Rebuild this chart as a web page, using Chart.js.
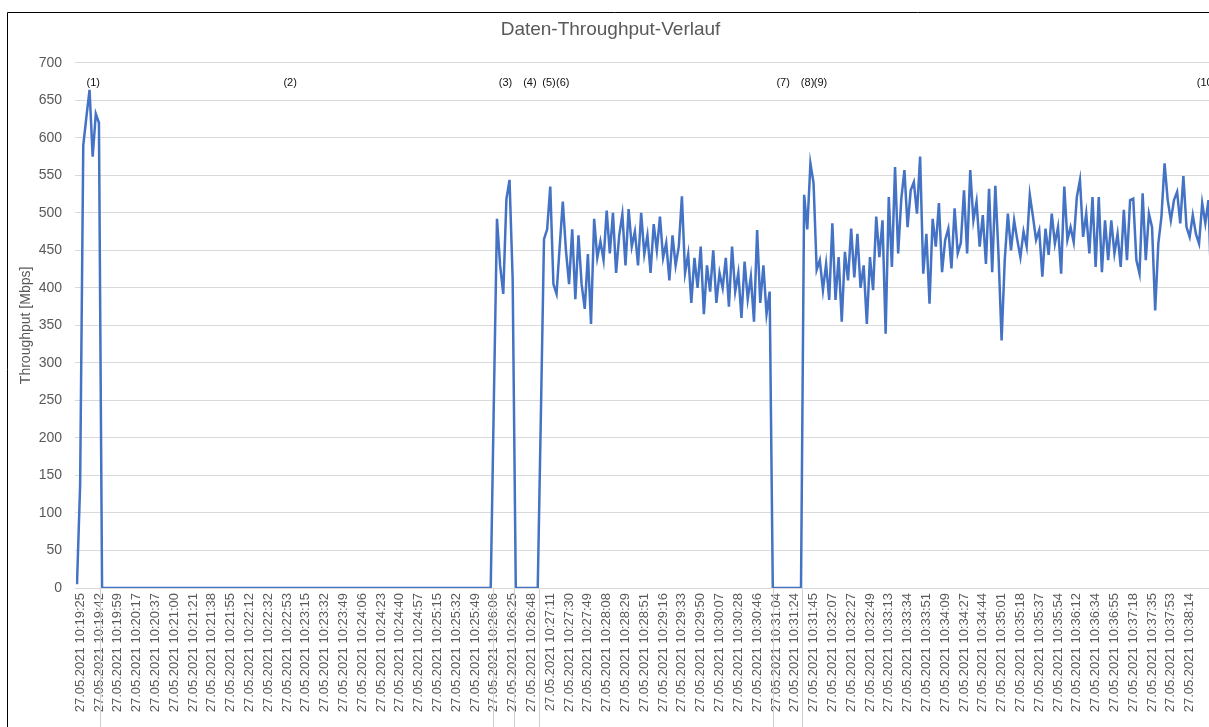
<!DOCTYPE html>
<html><head><meta charset="utf-8">
<script src="https://cdn.jsdelivr.net/npm/chart.js@4"></script>
<style>
html,body{margin:0;padding:0;overflow:hidden;background:#fff;width:1209px;height:727px}
#c{position:absolute;left:0;top:0}
</style></head><body>
<canvas id="c" width="1221" height="727"></canvas>
<script>
// ---- tick labels (one every 6 samples, starting at sample 1) ----
const tickLabels = [
 "27.05.2021 10:19:25","27.05.2021 10:19:42","27.05.2021 10:19:59","27.05.2021 10:20:17","27.05.2021 10:20:37",
 "27.05.2021 10:21:00","27.05.2021 10:21:21","27.05.2021 10:21:38","27.05.2021 10:21:55","27.05.2021 10:22:12",
 "27.05.2021 10:22:32","27.05.2021 10:22:53","27.05.2021 10:23:15","27.05.2021 10:23:32","27.05.2021 10:23:49",
 "27.05.2021 10:24:06","27.05.2021 10:24:23","27.05.2021 10:24:40","27.05.2021 10:24:57","27.05.2021 10:25:15",
 "27.05.2021 10:25:32","27.05.2021 10:25:49","27.05.2021 10:26:06","27.05.2021 10:26:25","27.05.2021 10:26:48",
 "27.05.2021 10:27:11","27.05.2021 10:27:30","27.05.2021 10:27:49","27.05.2021 10:28:08","27.05.2021 10:28:29",
 "27.05.2021 10:28:51","27.05.2021 10:29:16","27.05.2021 10:29:33","27.05.2021 10:29:50","27.05.2021 10:30:07",
 "27.05.2021 10:30:28","27.05.2021 10:30:46","27.05.2021 10:31:04","27.05.2021 10:31:24","27.05.2021 10:31:45",
 "27.05.2021 10:32:07","27.05.2021 10:32:27","27.05.2021 10:32:49","27.05.2021 10:33:13","27.05.2021 10:33:34",
 "27.05.2021 10:33:51","27.05.2021 10:34:09","27.05.2021 10:34:27","27.05.2021 10:34:44","27.05.2021 10:35:01",
 "27.05.2021 10:35:18","27.05.2021 10:35:37","27.05.2021 10:35:54","27.05.2021 10:36:12","27.05.2021 10:36:34",
 "27.05.2021 10:36:55","27.05.2021 10:37:18","27.05.2021 10:37:35","27.05.2021 10:37:53","27.05.2021 10:38:14"
];
const labelStart = 1;
const labelEvery = 6;

// ---- throughput samples [Mbps], by phase ----
const burst1 = [5, 138, 590, 628, 664, 575, 632, 620];
const idle1 = [
 0,0,0,0,0,0,0,0,0,0,0,0,0,0,0,0,0,0,0,0,0,0,0,0,0,
 0,0,0,0,0,0,0,0,0,0,0,0,0,0,0,0,0,0,0,0,0,0,0,0,0,
 0,0,0,0,0,0,0,0,0,0,0,0,0,0,0,0,0,0,0,0,0,0,0,0,0,
 0,0,0,0,0,0,0,0,0,0,0,0,0,0,0,0,0,0,0,0,0,0,0,0,0,
 0,0,0,0,0,0,0,0,0,0,0,0,0,0,0,0,0,0,0,0,0,0,0,0,0
];
const burst2 = [250, 492, 430, 392, 518, 544, 412];
const idle2 = [0,0,0,0,0,0,0,0];
const burst3 = [
 230, 465, 478, 535, 405, 392, 455, 515, 450, 405, 478, 385, 470, 405, 372, 445, 352, 492, 440, 462, 437, 503,
 446, 500, 420, 470, 498, 430, 505, 455, 475, 430, 500, 445, 470, 420, 485, 450, 495, 440, 460, 410,
 470, 430, 455, 522, 420, 445, 380, 440, 400, 455, 365, 430, 395, 450, 380, 420, 400, 440, 375, 455,
 395, 420, 360, 435, 385, 415, 355, 477, 380, 430, 365, 395
];
const idle3 = [0,0,0,0,0,0,0,0,0,0];
const burst4 = [
 524, 478, 566, 540, 424, 437, 397, 432, 384, 486,
 384, 441, 355, 448, 410, 479, 414, 472, 400, 430,
 352, 441, 397, 495, 441, 490, 339, 521, 428, 561,
 446, 519, 557, 481, 530, 541, 499, 575, 419, 472,
 379, 492, 455, 513, 421, 464, 479, 426, 506, 446,
 460, 530, 446, 557, 490, 515, 455, 497, 432, 532,
 421, 536, 446, 330, 437, 499, 450, 490, 464, 441,
 475, 455, 524, 495, 464, 477, 415, 479, 444, 499,
 459, 481, 419, 535, 464, 481, 461, 521, 544, 468,
 499, 446, 521, 428, 521, 421, 490, 437, 490, 446,
 472, 428, 504, 437, 517, 519, 437, 419, 526, 437,
 499, 481, 370, 459, 495, 566, 517, 490, 517, 528,
 486, 549, 481, 468, 497, 472, 459, 513, 486, 517,
 384, 430, 470, 455
];
const throughput = [].concat(burst1, idle1, burst2, idle2, burst3, idle3, burst4);

// ---- event annotations (sample positions) ----
const eventNames = ["(1)","(2)","(3)","(4)","(5)","(6)","(7)","(8)","(9)","(10)"];
const eventAt    = [5.2, 68.0, 136.7, 144.5, 150.6, 155.0, 225.3, 233.1, 237.2, 360.4];
const eventLevel = 673;
// phase transitions (sample positions)
const phaseEdges = [7.3, 132.8, 139.5, 147.5, 222.2, 231.4];

const FONT = "'Liberation Sans', Arial, sans-serif";

const categories = throughput.map((_, i) => {
  const k = i - labelStart;
  return (k >= 0 && k % labelEvery === 0 && tickLabels[k / labelEvery]) ? tickLabels[k / labelEvery] : '';
});

const overlay = {
  id: 'overlay',
  afterDraw(chart) {
    const {ctx, chartArea} = chart;
    const x = chart.scales.x, y = chart.scales.y;
    ctx.save();
    ctx.strokeStyle = '#cfcfcf';
    ctx.lineWidth = 1;
    phaseEdges.forEach(p => {
      const px = Math.round(x.getPixelForValue(p)) + 0.5;
      ctx.beginPath(); ctx.moveTo(px, chartArea.bottom + 1); ctx.lineTo(px, chart.height); ctx.stroke();
    });
    ctx.fillStyle = '#111';
    ctx.font = '11px ' + FONT;
    ctx.textAlign = 'center';
    ctx.textBaseline = 'middle';
    const ly = y.getPixelForValue(eventLevel);
    eventNames.forEach((t, i) => ctx.fillText(t, x.getPixelForValue(eventAt[i]), ly));
    // frame
    ctx.strokeStyle = '#000';
    ctx.beginPath(); ctx.moveTo(7.5, chart.height); ctx.lineTo(7.5, 12.5); ctx.lineTo(chart.width, 12.5); ctx.stroke();
    ctx.restore();
  }
};

new Chart(document.getElementById('c'), {
  type: 'line',
  data: {
    labels: categories,
    datasets: [{
      data: throughput,
      borderColor: '#4472C4',
      borderWidth: 2.5,
      pointRadius: 0,
      tension: 0,
      fill: false
    }]
  },
  options: {
    responsive: false,
    animation: false,
    devicePixelRatio: 1,
    layout: { padding: 0 },
    plugins: {
      legend: { display: false },
      tooltip: { enabled: false },
      title: {
        display: true, text: 'Daten-Throughput-Verlauf', color: '#595959',
        font: { family: FONT, size: 19, weight: 'normal' },
        padding: { top: 18, bottom: 22 }
      }
    },
    scales: {
      x: {
        type: 'category', offset: false,
        grid: { display: false, drawTicks: false },
        border: { display: false },
        ticks: { autoSkip: false, maxRotation: 90, minRotation: 90, padding: 5, color: '#595959',
                 font: { family: FONT, size: 13 } },
        afterFit(s) { s.height = 139; s.paddingLeft = 0; s.paddingRight = 0; }
      },
      y: {
        min: 0, max: 700,
        grid: { color: '#d9d9d9', tickColor: '#d9d9d9', tickLength: 2, lineWidth: 1 },
        border: { display: false },
        ticks: { stepSize: 50, padding: 13, color: '#595959', font: { family: FONT, size: 14 } },
        title: { display: true, text: 'Throughput [Mbps]', color: '#595959',
                 font: { family: FONT, size: 14 }, padding: { top: 18, bottom: 0 } },
        afterFit(s) { s.width = 77; }
      }
    }
  },
  plugins: [overlay]
});
</script>
</body></html>
